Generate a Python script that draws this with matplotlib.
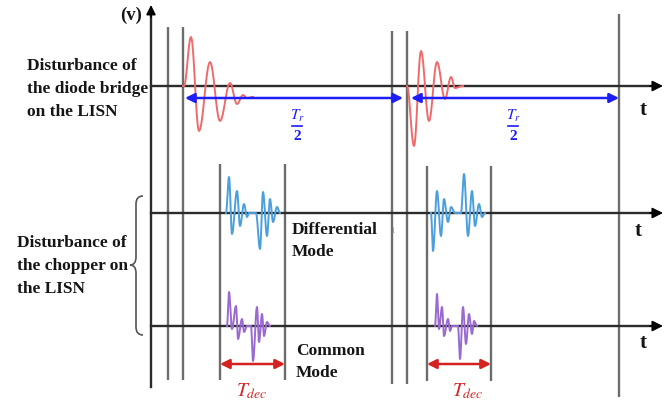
import numpy as np
import matplotlib
matplotlib.use("Agg")
import matplotlib.pyplot as plt
from matplotlib.path import Path
from matplotlib.patches import PathPatch

plt.rcParams['font.family'] = ['Liberation Serif', 'DejaVu Serif']
plt.rcParams['mathtext.fontset'] = 'stix'

W, H = 667, 410

# ---- schematic description (pixel-space units of the drawing) ----
# vertical marker lines: (x, y_top, y_bottom)
marker_x = [168, 183, 220, 285, 392, 407, 427, 491, 619]
marker_top = [28, 28, 165, 165, 32, 32, 167, 167, 15]
marker_bot = [381, 381, 381, 381, 385, 385, 382, 382, 398]

# time axes (baseline levels) and their labels
axis_y = [87, 214, 327]
axis_t_label_pos = [(643, 110), (638, 231), (643, 343)]

# diode-bridge disturbance (red), extrema (x, y)
red1_x = [183, 184, 191, 199, 210, 220, 230, 237, 243, 247, 253]
red1_y = [87, 87, 38, 132, 63, 122, 84, 105, 96, 99, 98]
red2_x = [407, 414, 421, 429, 437, 445, 451, 455, 463]
red2_y = [87, 147, 52, 122, 63, 100, 78, 89, 87]

# differential mode bursts (blue)
dm1_x = [226, 229, 232, 237, 240, 244, 247, 249, 256, 260, 263, 267, 270, 273, 277, 280]
dm1_y = [214, 178, 235, 192, 227, 205, 218, 214, 214, 250, 193, 237, 200, 223, 208, 214]
dm2_x = [431, 433, 437, 441, 444, 448, 451, 455, 461, 464, 468, 472, 475, 479, 482, 485]
dm2_y = [214, 252, 192, 237, 200, 223, 208, 214, 214, 175, 237, 192, 227, 205, 218, 214]

# common mode bursts (purple)
cm1_x = [227, 229, 232, 236, 238, 242, 244, 247, 251, 253, 257, 259, 262, 264, 267, 270]
cm1_y = [327, 293, 330, 307, 340, 320, 333, 327, 327, 362, 308, 343, 315, 337, 323, 327]
cm2_x = [435, 437, 439, 442, 444, 448, 450, 452, 458, 460, 463, 466, 469, 472, 474, 477]
cm2_y = [327, 295, 330, 308, 337, 320, 332, 327, 327, 360, 308, 345, 315, 335, 322, 327]

# half-period arrows (blue) and T_dec arrows (red): (x_start, x_end)
half_arrows = [(185, 403), (411, 619)]
half_arrow_y = 99
half_label_x = [297, 513]
dec_arrows = [(220, 285), (427, 491)]
dec_arrow_y = 365
dec_label_x = [252, 468]

GRAY = '#6c6c6c'
DARK = '#2b2b2b'
RED = '#ef6b6b'
BLUE = '#1d1dfa'
DMC = '#4a9fdc'
CMC = '#9a6ad0'
DRED = '#d42222'
TXT = '#151515'

fig = plt.figure(figsize=(W / 100, H / 100), dpi=100)
ax = fig.add_axes([0, 0, 1, 1])
ax.set_xlim(0, W)
ax.set_ylim(H, 0)
ax.axis('off')


def wave(xs, ys, n=12):
    """Join successive extrema with half-cosine strokes."""
    px, py = [], []
    for i in range(len(xs) - 1):
        s = np.linspace(0, 1, n)
        w = (1 - np.cos(np.pi * s)) / 2
        px.extend(xs[i] + (xs[i + 1] - xs[i]) * s)
        py.extend(ys[i] + (ys[i + 1] - ys[i]) * w)
    return px, py


# vertical marker lines
for x, t, b in zip(marker_x, marker_top, marker_bot):
    ax.plot([x, x], [t, b], color=GRAY, lw=1.7, solid_capstyle='butt', zorder=2)

# y axis with arrow
ax.plot([151, 151], [388, 14], color=DARK, lw=1.7, zorder=3)
ax.annotate('', xy=(151, 6), xytext=(151, 18),
            arrowprops=dict(arrowstyle='-|>', color='black', lw=1.2,
                            mutation_scale=14, shrinkA=0, shrinkB=0))
ax.text(131, 15, '(v)', fontsize=13.5, fontweight='bold', ha='center', va='center',
        color=TXT)

# time axes
for y, (tx, ty) in zip(axis_y, axis_t_label_pos):
    ax.plot([151, 652], [y, y], color=DARK, lw=1.7, zorder=3)
    ax.annotate('', xy=(663, y), xytext=(650, y),
                arrowprops=dict(arrowstyle='-|>', color='black', lw=1.2,
                                mutation_scale=16, shrinkA=0, shrinkB=0))
    ax.text(tx, ty, 't', fontsize=15, fontweight='bold', ha='center', va='center',
            color=TXT)

# waveforms
for xs, ys, c in [(red1_x, red1_y, RED), (red2_x, red2_y, RED),
                  (dm1_x, dm1_y, DMC), (dm2_x, dm2_y, DMC),
                  (cm1_x, cm1_y, CMC), (cm2_x, cm2_y, CMC)]:
    px, py = wave(xs, ys)
    ax.plot(px, py, color=c, lw=1.4, zorder=4)

# half-period arrows
for (x0, x1), lx in zip(half_arrows, half_label_x):
    ax.annotate('', xy=(x0, half_arrow_y), xytext=(x1, half_arrow_y),
                arrowprops=dict(arrowstyle='<|-|>', color=BLUE, lw=1.8,
                                mutation_scale=14, shrinkA=0, shrinkB=0), zorder=5)
    ax.text(lx, 116, r'$T_r$', fontsize=11, color=BLUE, ha='center', va='center')
    ax.plot([lx - 5, lx + 5], [127, 127], color=BLUE, lw=1.2)
    ax.text(lx, 137, '2', fontsize=11, color=BLUE, fontweight='bold',
            ha='center', va='center')

# T_dec arrows
for (x0, x1), lx in zip(dec_arrows, dec_label_x):
    ax.annotate('', xy=(x0, dec_arrow_y), xytext=(x1, dec_arrow_y),
                arrowprops=dict(arrowstyle='<|-|>', color=DRED, lw=1.8,
                                mutation_scale=14, shrinkA=0, shrinkB=0), zorder=5)
    ax.text(lx, 391, r'$T_{dec}$', fontsize=14, color=DRED, ha='center', va='center')

# labels
ax.text(27, 89, 'Disturbance of\nthe diode bridge\non the LISN', fontsize=12.5,
        fontweight='bold', ha='left', va='center', linespacing=1.55, color=TXT)
ax.text(17, 266, 'Disturbance of\nthe chopper on\nthe LISN', fontsize=12.5,
        fontweight='bold', ha='left', va='center', linespacing=1.55, color=TXT)
ax.text(292, 241, 'Differential\nMode', fontsize=12.5, fontweight='bold',
        ha='left', va='center', linespacing=1.55, color=TXT)
ax.text(296, 362, 'Common\nMode', fontsize=12.5, fontweight='bold',
        ha='left', va='center', linespacing=1.55, color=TXT)
ax.text(392, 231, '1', fontsize=6, color='#888888', ha='center', va='center')

# curly brace
bx, tip = 136, 130
y0, ym, y1 = 197, 266, 336
verts = [(143, y0), (bx, y0), (bx, y0 + 8),
         (bx, ym - 8),
         (bx, ym), (tip, ym),
         (bx, ym), (bx, ym + 8),
         (bx, y1 - 8),
         (bx, y1), (143, y1)]
codes = [Path.MOVETO, Path.CURVE3, Path.CURVE3,
         Path.LINETO,
         Path.CURVE3, Path.CURVE3,
         Path.CURVE3, Path.CURVE3,
         Path.LINETO,
         Path.CURVE3, Path.CURVE3]
ax.add_patch(PathPatch(Path(verts, codes), fill=False, edgecolor='#555555', lw=1.2))

fig.savefig('out.png', dpi=100)
